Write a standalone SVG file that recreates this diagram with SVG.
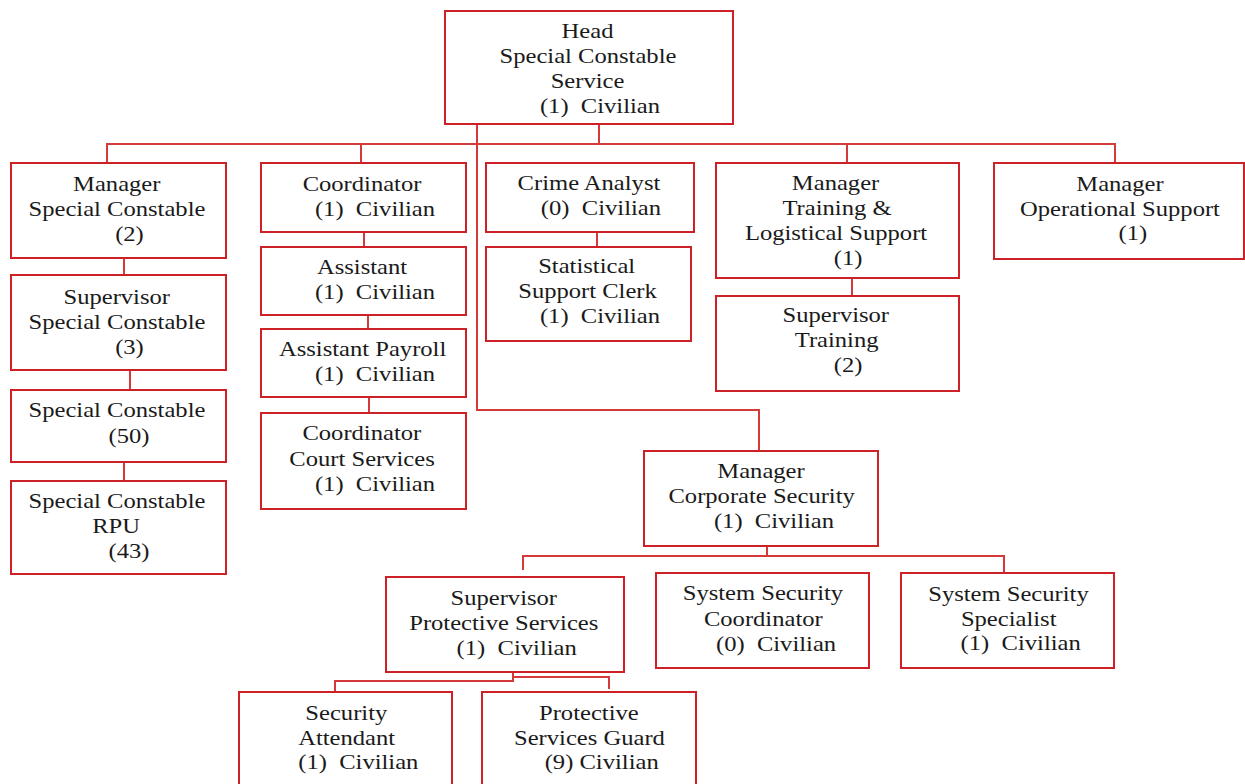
<svg xmlns="http://www.w3.org/2000/svg" width="1245" height="784" viewBox="0 0 1245 784">
<style>
rect{fill:#fff;stroke:#cd2027;stroke-width:2}
.c path{fill:none;stroke:#d43a3a;stroke-width:2}
text{font-family:"Liberation Serif","Times New Roman",serif;font-size:20.5px;fill:#1a1a1a;text-anchor:middle;white-space:pre}
</style>
<rect x="0" y="0" width="1245" height="784" style="stroke:none"/>
<g class="c" id="connectors">
<path d="M599,125V144"/>
<path d="M107,163V144H1115V163"/>
<path d="M361,144V163"/>
<path d="M847,144V163"/>
<path d="M477,120V410H759V451"/>
<path d="M124,258V275"/>
<path d="M130,370V390"/>
<path d="M124,462V481"/>
<path d="M364,232V247"/>
<path d="M368,315V329"/>
<path d="M369,397V413"/>
<path d="M597,232V247"/>
<path d="M852,278V296"/>
<path d="M767,542V557"/>
<path d="M523,570V556H1004V573"/>
<path d="M513,665V681H335V692"/>
<path d="M513,677H609V689"/>
</g>
<g id="head"><rect x="445" y="11" width="288" height="113"/>
<text transform="scale(1.2,1)" x="489.6" y="38">Head</text>
<text transform="scale(1.2,1)" x="490" y="63">Special Constable</text>
<text transform="scale(1.2,1)" x="489.6" y="88">Service</text>
<text transform="scale(1.2,1)" x="500" y="113">(1)  Civilian</text></g>
<g id="mgr-sc"><rect x="11" y="163" width="215" height="95"/>
<text transform="scale(1.2,1)" x="97.3" y="191">Manager</text>
<text transform="scale(1.2,1)" x="97.5" y="216">Special Constable</text>
<text transform="scale(1.2,1)" x="107.9" y="241">(2)</text></g>
<g id="sup-sc"><rect x="11" y="275" width="215" height="95"/>
<text transform="scale(1.2,1)" x="97.3" y="304">Supervisor</text>
<text transform="scale(1.2,1)" x="97.5" y="329">Special Constable</text>
<text transform="scale(1.2,1)" x="107.9" y="354">(3)</text></g>
<g id="sc"><rect x="11" y="390" width="215" height="72"/>
<text transform="scale(1.2,1)" x="97.5" y="417">Special Constable</text>
<text transform="scale(1.2,1)" x="107.5" y="443">(50)</text></g>
<g id="sc-rpu"><rect x="11" y="481" width="215" height="93"/>
<text transform="scale(1.2,1)" x="97.5" y="508">Special Constable</text>
<text transform="scale(1.2,1)" x="96.7" y="533">RPU</text>
<text transform="scale(1.2,1)" x="107.5" y="558">(43)</text></g>
<g id="coord"><rect x="261" y="163" width="205" height="69"/>
<text transform="scale(1.2,1)" x="301.7" y="191">Coordinator</text>
<text transform="scale(1.2,1)" x="312.5" y="216">(1)  Civilian</text></g>
<g id="asst"><rect x="261" y="247" width="205" height="68"/>
<text transform="scale(1.2,1)" x="301.7" y="274">Assistant</text>
<text transform="scale(1.2,1)" x="312.5" y="299">(1)  Civilian</text></g>
<g id="asst-payroll"><rect x="261" y="329" width="205" height="68"/>
<text transform="scale(1.2,1)" x="302.2" y="356">Assistant Payroll</text>
<text transform="scale(1.2,1)" x="312.5" y="381">(1)  Civilian</text></g>
<g id="coord-court"><rect x="261" y="413" width="205" height="96"/>
<text transform="scale(1.2,1)" x="301.5" y="440">Coordinator</text>
<text transform="scale(1.2,1)" x="301.7" y="466">Court Services</text>
<text transform="scale(1.2,1)" x="312.5" y="491">(1)  Civilian</text></g>
<g id="crime"><rect x="486" y="163" width="208" height="69"/>
<text transform="scale(1.2,1)" x="490.8" y="190">Crime Analyst</text>
<text transform="scale(1.2,1)" x="500.8" y="215">(0)  Civilian</text></g>
<g id="stat"><rect x="486" y="247" width="205" height="94"/>
<text transform="scale(1.2,1)" x="488.9" y="273">Statistical</text>
<text transform="scale(1.2,1)" x="489.6" y="298">Support Clerk</text>
<text transform="scale(1.2,1)" x="500" y="323">(1)  Civilian</text></g>
<g id="mgr-training"><rect x="716" y="163" width="243" height="115"/>
<text transform="scale(1.2,1)" x="696.3" y="190">Manager</text>
<text transform="scale(1.2,1)" x="697.5" y="215">Training &amp;</text>
<text transform="scale(1.2,1)" x="696.7" y="240">Logistical Support</text>
<text transform="scale(1.2,1)" x="706.7" y="265">(1)</text></g>
<g id="sup-training"><rect x="716" y="296" width="243" height="95"/>
<text transform="scale(1.2,1)" x="696.5" y="322">Supervisor</text>
<text transform="scale(1.2,1)" x="697.2" y="347">Training</text>
<text transform="scale(1.2,1)" x="706.7" y="372">(2)</text></g>
<g id="mgr-ops"><rect x="994" y="163" width="250" height="96"/>
<text transform="scale(1.2,1)" x="933.3" y="191">Manager</text>
<text transform="scale(1.2,1)" x="933.3" y="216">Operational Support</text>
<text transform="scale(1.2,1)" x="944" y="240">(1)</text></g>
<g id="mgr-corp"><rect x="644" y="451" width="234" height="95"/>
<text transform="scale(1.2,1)" x="634.2" y="478">Manager</text>
<text transform="scale(1.2,1)" x="634.7" y="503">Corporate Security</text>
<text transform="scale(1.2,1)" x="645" y="528">(1)  Civilian</text></g>
<g id="sup-prot"><rect x="386" y="577" width="238" height="95"/>
<text transform="scale(1.2,1)" x="419.8" y="605">Supervisor</text>
<text transform="scale(1.2,1)" x="419.8" y="630">Protective Services</text>
<text transform="scale(1.2,1)" x="430.6" y="655">(1)  Civilian</text></g>
<g id="ssc"><rect x="656" y="573" width="213" height="95"/>
<text transform="scale(1.2,1)" x="635.8" y="600">System Security</text>
<text transform="scale(1.2,1)" x="636.1" y="626">Coordinator</text>
<text transform="scale(1.2,1)" x="646.7" y="651">(0)  Civilian</text></g>
<g id="sss"><rect x="901" y="573" width="213" height="95"/>
<text transform="scale(1.2,1)" x="840.4" y="601">System Security</text>
<text transform="scale(1.2,1)" x="840.6" y="626">Specialist</text>
<text transform="scale(1.2,1)" x="850.6" y="650">(1)  Civilian</text></g>
<g id="sec-att"><rect x="239" y="692" width="213" height="100"/>
<text transform="scale(1.2,1)" x="288.6" y="720">Security</text>
<text transform="scale(1.2,1)" x="288.9" y="745">Attendant</text>
<text transform="scale(1.2,1)" x="298.6" y="769">(1)  Civilian</text></g>
<g id="guard"><rect x="482" y="692" width="214" height="100"/>
<text transform="scale(1.2,1)" x="490.7" y="720">Protective</text>
<text transform="scale(1.2,1)" x="491.2" y="745">Services Guard</text>
<text transform="scale(1.2,1)" x="501.4" y="769">(9) Civilian</text></g>
</svg>
